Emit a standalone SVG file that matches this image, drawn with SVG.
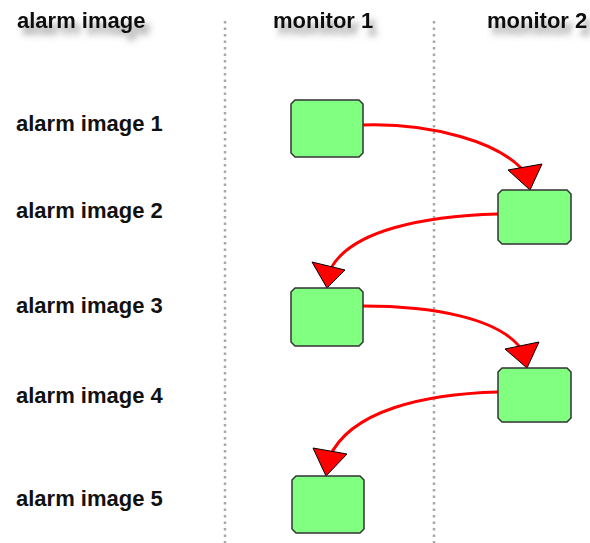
<svg xmlns="http://www.w3.org/2000/svg" width="590" height="543" viewBox="0 0 590 543">
<defs>
<filter id="sh" x="-20%" y="-50%" width="150%" height="250%">
<feDropShadow dx="5" dy="7" stdDeviation="3" flood-color="#555" flood-opacity="0.6"/>
</filter>
</defs>
<style>
text{font-family:"Liberation Sans",Arial,sans-serif;font-weight:bold;font-size:22px;fill:#111}
.sep{stroke:#a8a8a8;stroke-width:2.5;stroke-dasharray:2.5 4;fill:none}
.box{fill:#80ff80;stroke:#333;stroke-width:1.5}
.conn{stroke:#f00;stroke-width:3;fill:none}
.head{fill:#f00;stroke:#000;stroke-width:1;stroke-linejoin:miter}
</style>
<rect width="590" height="543" fill="#fff"/>
<g id="headers" filter="url(#sh)">
<text x="17" y="28">alarm image</text>
<text x="273" y="28">monitor 1</text>
<text x="487" y="28">monitor 2</text>
</g>
<g id="separators">
<line class="sep" x1="225" y1="21" x2="225" y2="543"/>
<line class="sep" x1="434" y1="21" x2="434" y2="543"/>
</g>
<g id="row-labels">
<text x="16" y="131">alarm image 1</text>
<text x="16" y="218">alarm image 2</text>
<text x="16" y="313">alarm image 3</text>
<text x="16" y="403">alarm image 4</text>
<text x="16" y="506">alarm image 5</text>
</g>
<g id="connectors">
<path class="conn" d="M363,125 C425,123 505,140 529,178"/>
<polygon class="head" points="508,170 542,164 530,190"/>
<path class="conn" d="M498,214 C425,216 350,230 330,270"/>
<polygon class="head" points="312,262 345,270 327,288"/>
<path class="conn" d="M363,306 C425,306 505,316 525,355"/>
<polygon class="head" points="505,349 539,342 527,368"/>
<path class="conn" d="M498,392 C425,394 350,410 329,458"/>
<polygon class="head" points="313,448 347,454 326,476"/>
</g>
<g id="node-m1-img1"><polygon class="box" points="295,100 359,100 363,104 363,153 359,157 295,157 291,153 291,104"/></g>
<g id="node-m2-img2"><polygon class="box" points="502,190 567,190 571,194 571,240 567,244 502,244 498,240 498,194"/></g>
<g id="node-m1-img3"><polygon class="box" points="295,288 359,288 363,292 363,342 359,346 295,346 291,342 291,292"/></g>
<g id="node-m2-img4"><polygon class="box" points="502,368 567,368 571,372 571,418 567,422 502,422 498,418 498,372"/></g>
<g id="node-m1-img5"><polygon class="box" points="296,476 360,476 364,480 364,529 360,533 296,533 292,529 292,480"/></g>
</svg>
